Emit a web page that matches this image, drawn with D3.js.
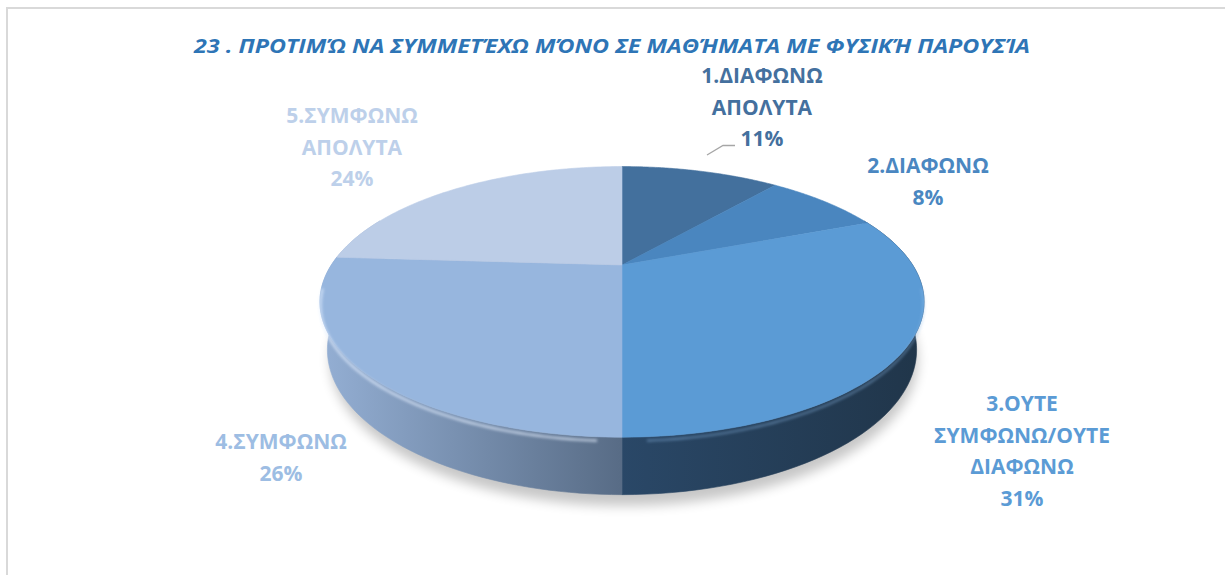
<!DOCTYPE html>
<html>
<head>
<meta charset="utf-8">
<script src="https://cdn.jsdelivr.net/npm/d3@7"></script>
<style>
  body { margin: 0; background: #fff; }
  svg { display: block; font-family: "Open Sans", "Noto Sans", sans-serif; }
</style>
</head>
<body>
<script>
// ---- DATA ----
const title = "23 . ΠΡΟΤΙΜΏ ΝΑ ΣΥΜΜΕΤΈΧΩ ΜΌΝΟ ΣΕ ΜΑΘΉΜΑΤΑ ΜΕ ΦΥΣΙΚΉ ΠΑΡΟΥΣΊΑ";
const categories = ["1.ΔΙΑΦΩΝΩ ΑΠΟΛΥΤΑ", "2.ΔΙΑΦΩΝΩ", "3.ΟΥΤΕ ΣΥΜΦΩΝΩ/ΟΥΤΕ ΔΙΑΦΩΝΩ", "4.ΣΥΜΦΩΝΩ", "5.ΣΥΜΦΩΝΩ ΑΠΟΛΥΤΑ"];
const values = [11, 8, 31, 26, 24];
const labelLines = [
    ["1.ΔΙΑΦΩΝΩ", "ΑΠΟΛΥΤΑ"],
    ["2.ΔΙΑΦΩΝΩ"],
    ["3.ΟΥΤΕ", "ΣΥΜΦΩΝΩ/ΟΥΤΕ", "ΔΙΑΦΩΝΩ"],
    ["4.ΣΥΜΦΩΝΩ"],
    ["5.ΣΥΜΦΩΝΩ", "ΑΠΟΛΥΤΑ"]
];

// ---- LAYOUT / STYLE ----
const W = 1225, H = 575;
const topColors = ["#43709d", "#4a86bf", "#5b9bd5", "#97b6de", "#bccde7"];
const labelColors = ["#44709e", "#4a87c1", "#5b9bd5", "#9dbde3", "#bdd0ea"];
const sideStops = [
    ["#2c4a6b", "#243d58"],
    ["#345a82", "#2a4a6c"],
    ["#2a4868", "#203549"],
    ["#94afd4", "#586c86"],
    ["#a8bcd9", "#8094b0"]
];
// label block centres (x, y of first line baseline)
const labelPos = [[762, 83], [928, 173], [1022, 411], [281, 449], [352, 123]];
const lineGap = 31.5;

// perspective projection of the pie cylinder
const cx = 622, cy = 265, D = 3.31, sn = 0.431, cs = 0.902, f = 962, depth = 0.18;
function proj(theta, r, z) {
    const X = r * Math.sin(theta), Y = r * Math.cos(theta);
    const d = D + Y * cs - z * sn;
    return [cx + f * X / d, cy - f * (Y * sn + z * cs) / d];
}
function rim(a0, a1, z, n) {
    const pts = [];
    for (let i = 0; i <= n; i++) pts.push(proj(a0 + (a1 - a0) * i / n, 1, z));
    return pts;
}

const svg = d3.select("body").append("svg")
    .attr("width", W)
    .attr("height", H);

const defs = svg.append("defs");
defs.append("filter").attr("id", "blur").attr("x", "-20%").attr("y", "-20%").attr("width", "140%").attr("height", "140%")
    .append("feGaussianBlur").attr("stdDeviation", 6);
defs.append("filter").attr("id", "soft")
    .append("feGaussianBlur").attr("stdDeviation", 1.6);

// chart border (open on right / bottom like the source crop)
svg.append("path")
    .attr("d", `M7,${H} V8 H${W}`)
    .attr("fill", "none")
    .attr("stroke", "#d9d9d9")
    .attr("stroke-width", 2);

// title
svg.append("text")
    .attr("x", 612)
    .attr("y", 53)
    .attr("text-anchor", "middle")
    .attr("font-size", 20)
    .attr("font-weight", "bold")
    .attr("font-style", "italic")
    .attr("fill", "#2e75b6")
    .attr("textLength", 836)
    .attr("lengthAdjust", "spacingAndGlyphs")
    .text(title);

const pie = d3.pie().sort(null).startAngle(0).endAngle(2 * Math.PI)(values);
const line = d3.line();

// shadow under the pie
const shadowPts = rim(0, 2 * Math.PI, -depth - 0.02, 120).map(p => [p[0] + 2, p[1] + 5]);
svg.append("path")
    .attr("d", line(shadowPts) + "Z")
    .attr("fill", "#000")
    .attr("opacity", 0.22)
    .attr("filter", "url(#blur)");

// side gradients
sideStops.forEach((s, i) => {
    const g = defs.append("linearGradient")
        .attr("id", "side" + i)
        .attr("gradientUnits", "userSpaceOnUse")
        .attr("x1", i === 2 ? 615 : 320).attr("x2", i === 2 ? 930 : 620)
        .attr("y1", 0).attr("y2", 0);
    g.append("stop").attr("offset", 0).attr("stop-color", s[0]);
    g.append("stop").attr("offset", 1).attr("stop-color", s[1]);
});

// ---- SIDES ----
const lo = Math.PI / 2 - 0.4, hi = 3 * Math.PI / 2 + 0.4;
const sides = pie.map((d, i) => ({ d, i }))
    .filter(o => o.d.endAngle > lo && o.d.startAngle < hi)
    .sort((a, b) => Math.abs((b.d.startAngle + b.d.endAngle) / 2 - Math.PI) - Math.abs((a.d.startAngle + a.d.endAngle) / 2 - Math.PI));

svg.append("g").selectAll("path")
    .data(sides)
    .enter()
    .append("path")
    .attr("d", o => {
        const a0 = Math.max(o.d.startAngle, lo), a1 = Math.min(o.d.endAngle, hi);
        const top = rim(a0, a1, 0, 60), bot = rim(a1, a0, -depth, 60);
        return line(top.concat(bot)) + "Z";
    })
    .attr("fill", o => `url(#side${o.i})`)
    .attr("stroke", o => `url(#side${o.i})`)
    .attr("stroke-width", 0.6);

// ---- TOP FACES ----
svg.append("g").selectAll("path")
    .data(pie)
    .enter()
    .append("path")
    .attr("d", d => line([proj(0, 0, 0)].concat(rim(d.startAngle, d.endAngle, 0, 80))) + "Z")
    .attr("fill", (d, i) => topColors[i])
    .attr("stroke", (d, i) => topColors[i])
    .attr("stroke-width", 0.6);

// bevel highlight on the front rim
svg.append("path")
    .attr("d", line(rim(Math.PI * 1.02, Math.PI * 1.45, -0.012, 60)))
    .attr("fill", "none")
    .attr("stroke", "#e4efff")
    .attr("stroke-width", 2.2)
    .attr("opacity", 0.8)
    .attr("filter", "url(#soft)");
svg.append("path")
    .attr("d", line(rim(Math.PI * 0.55, Math.PI * 0.98, -0.012, 60)))
    .attr("fill", "none")
    .attr("stroke", "#8fbbe8")
    .attr("stroke-width", 1.6)
    .attr("opacity", 0.6)
    .attr("filter", "url(#soft)");

// ---- LABELS ----
svg.append("path")
    .attr("d", "M707,155 L723,145.5 L735,145.5")
    .attr("fill", "none")
    .attr("stroke", "#a6a6a6")
    .attr("stroke-width", 1.3);

const labels = svg.append("g").selectAll("text")
    .data(pie)
    .enter()
    .append("text")
    .attr("text-anchor", "middle")
    .attr("font-size", 21)
    .attr("font-weight", "bold")
    .attr("fill", (d, i) => labelColors[i]);

labels.each(function (d, i) {
    const lines = labelLines[i].concat([Math.round(d.value) + "%"]);
    d3.select(this).selectAll("tspan")
        .data(lines)
        .enter()
        .append("tspan")
        .attr("x", labelPos[i][0])
        .attr("y", (t, k) => labelPos[i][1] + k * lineGap)
        .text(t => t);
});
</script>
</body>
</html>
